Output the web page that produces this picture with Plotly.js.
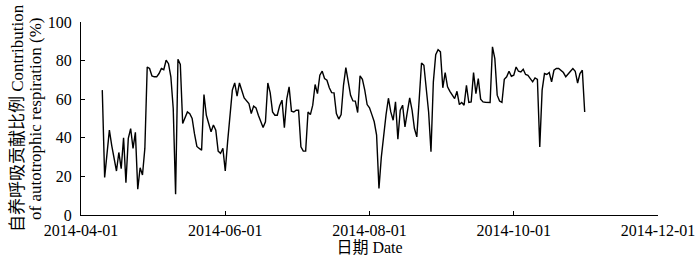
<!DOCTYPE html>
<html>
<head>
<meta charset="utf-8">
<script src="https://cdn.plot.ly/plotly-3.0.1.min.js"></script>
<style>html,body{margin:0;padding:0;background:#fff;}#chart{width:700px;height:264px;}</style>
</head>
<body>
<div id="chart"></div>
<script>
// Daily contribution of autotrophic respiration (%)
const aprDates = ['2014-04-10','2014-04-11','2014-04-13','2014-04-14','2014-04-16','2014-04-17','2014-04-18','2014-04-19','2014-04-20','2014-04-21','2014-04-22','2014-04-23','2014-04-24','2014-04-25','2014-04-26','2014-04-27','2014-04-28','2014-04-29','2014-04-30'];
const aprValues = [64.7,19.5,44,36,22.8,32.4,24,40,16.7,39.7,44.8,34.5,42.8,13.4,24.5,20.7,34.5,76.7,75.9];

const mayDays = [1,2,3,4,5,6,7,8,9,10,11,12,13,14,15,16,17,18,19,20,21,22,23,24,25,26,27,28,29,30,31];
const mayValues = [72,71.6,71.6,73.3,75.9,75.3,80.2,78.4,71.6,55.2,10.7,80.7,78,47.4,50.3,53.4,52.5,50,42,35.5,34.5,33.6,62.4,51.7,47.4,43.1,46.6,44,33.1,31.9,34.5];

const junDays = [1,2,4,5,6,7,8,9,11,12,13,14,15,16,17,18,19,20,21,22,23,24,25,26,27,28,29,30];
const junValues = [22.8,37.9,64.7,68.4,61.6,68.4,64.7,60.7,57.8,52.6,56.4,55.5,51.7,48.6,45.3,48.3,68.4,63.4,53.4,51.7,51.7,56.6,59.5,45.2,60,66.4,53.8,53.4];

const julDays = [1,2,3,4,5,6,7,8,9,10,11,12,13,14,15,16,17,18,19,20,21,22,23,24,25,26,27,28,29,30,31];
const julValues = [54.3,54.3,35.3,33.1,33.1,53.4,52,56.9,67.6,62.9,72.4,74.5,70.7,69.8,65.9,63.4,63.3,52.6,49.7,52,67.2,76.4,69,62,59.1,59,53.1,72.1,70.3,64.7,57.2];

const augDays = [1,2,3,4,5,6,7,8,9,10,11,12,13,14,15,16,17,18,19,20,21,22,23,24,25,26,27,28,29,30,31];
const augValues = [55.5,52,48.3,41.4,13.8,30,42,52,60.5,53.4,49.1,58.6,39.3,54.3,56.9,45.7,53.4,60.7,54.3,44.8,40.5,60.3,78.8,77.6,64.7,53.4,32.8,69,83.1,85.7,84.5];

const sepDays = [1,2,3,4,5,6,7,8,9,10,11,12,13,14,15,16,17,18,19,20,21,22,23,24,25,26,27,28,29,30];
const sepValues = [65.9,73.8,66.4,64.1,62.1,60.3,64.1,57.2,58.3,56.9,67.2,58.3,58.6,73.8,62.9,70.7,60,58.6,58.4,58.3,58.3,87.1,81,62.1,59,58.3,70.3,71.6,74.5,71.9];

const octDays = [1,2,3,4,5,6,7,8,9,10,11,12,13,14,15,16,17,18,19,20,21,22,23,24,25,26,27,28,29,30,31];
const octValues = [72.4,76.7,74.5,74.1,75.5,72.8,72.4,70.7,69,71,70.3,35.3,64.7,73.3,72.8,73.8,69,75,75.9,75.9,75,73.8,71.6,73.3,74.5,75.9,74.5,68.4,73.3,75,53.4];

const xTickVals = ['2014-04-01','2014-06-01','2014-08-01','2014-10-01','2014-12-01'];
const yTickVals = [0,20,40,60,80,100];
const yTitleLines = ['自养呼吸贡献比例 Contribution', 'of autotrophic respiration (%)'];
const xTitle = '日期 Date';

function mk(month, days){ return days.map(d => '2014-' + month + '-' + String(d).padStart(2,'0')); }
const dates = aprDates.concat(mk('05',mayDays), mk('06',junDays), mk('07',julDays), mk('08',augDays), mk('09',sepDays), mk('10',octDays));
const values = aprValues.concat(mayValues, junValues, julValues, augValues, sepValues, octValues);

const FONT = 'Liberation Serif, Times New Roman, Noto Sans CJK SC, serif';
const L = 81, R = 42, W = 700;
const plotW = W - L - R;
const titleX = [17.5, 35.5];

const trace = {
  x: dates, y: values, type: 'scatter', mode: 'lines',
  line: {color: '#000', width: 1.4},
  hoverinfo: 'skip'
};

const layout = {
  width: 700, height: 264,
  margin: {l: L, r: R, t: 22, b: 49},
  paper_bgcolor: '#fff', plot_bgcolor: '#fff',
  showlegend: false,
  font: {family: FONT, size: 16, color: '#000'},
  xaxis: {
    type: 'date',
    range: ['2014-04-01', '2014-12-01'],
    tickmode: 'array', tickvals: xTickVals, ticktext: xTickVals,
    showgrid: false, zeroline: false,
    showline: true, linecolor: '#000', linewidth: 1,
    ticks: 'inside', ticklen: 4, tickcolor: '#000', tickwidth: 1,
    ticklabelstandoff: 1,
    tickfont: {family: FONT, size: 16, color: '#000'},
    title: {text: xTitle, font: {family: FONT, size: 16, color: '#000'}, standoff: 3}
  },
  yaxis: {
    range: [0, 100],
    tickmode: 'array', tickvals: yTickVals,
    showgrid: false, zeroline: false,
    showline: true, linecolor: '#000', linewidth: 1,
    ticks: 'inside', ticklen: 4, tickcolor: '#000', tickwidth: 1,
    ticklabelstandoff: 5,
    tickfont: {family: FONT, size: 16, color: '#000'}
  },
  annotations: yTitleLines.map((t, i) => ({
    text: t, xref: 'paper', yref: 'paper',
    x: (titleX[i] - L) / plotW, y: 0.5, xanchor: 'center', yanchor: 'middle',
    textangle: -90, showarrow: false,
    font: {family: FONT, size: 17, color: '#000'}
  }))
};

Plotly.newPlot('chart', [trace], layout, {displayModeBar: false, staticPlot: true});
</script>
</body>
</html>
